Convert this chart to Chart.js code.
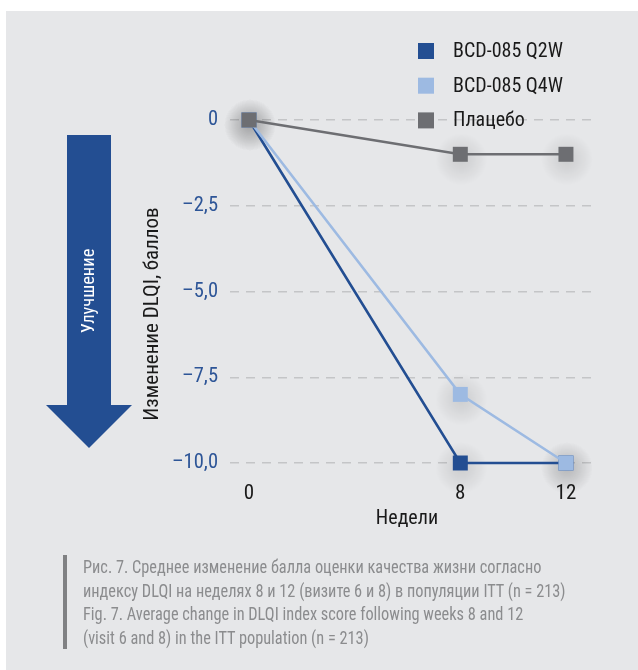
<!DOCTYPE html>
<html>
<head>
<meta charset="utf-8">
<script src="https://cdn.jsdelivr.net/npm/chart.js@4"></script>
<style>
  html, body { margin: 0; padding: 0; background: #ffffff; }
  #wrap { position: relative; width: 638px; height: 670px; overflow: hidden; }
  #panel { position: absolute; left: 6px; top: 11px; right: 0; bottom: 0; background: #e6e7e9; }
  #chart { position: absolute; left: 0; top: 0; }
  #caption {
    position: absolute; left: 63px; top: 555px;
    border-left: 4px solid #808183; padding-left: 16px;
  }
  #caption div {
    font-family: 'Roboto Condensed', 'Roboto', sans-serif; font-size: 18px;
    line-height: 23.6px; color: #8b8c8e; white-space: nowrap;
    transform: scaleX(0.907); transform-origin: left center;
  }
</style>
</head>
<body>
<div id="wrap">
  <div id="panel"></div>
  <canvas id="chart" width="638" height="670"></canvas>
  <div id="caption"><div>Рис. 7. Среднее изменение балла оценки качества жизни согласно<br>индексу DLQI на неделях 8 и 12 (визите 6 и 8) в популяции ITT (n = 213)<br>Fig. 7. Average change in DLQI index score following weeks 8 and 12<br>(visit 6 and 8) in the ITT population (n = 213)</div></div>
</div>
<script>
// Weeks of assessment and mean DLQI change per group
const weeks = [0, 8, 12];
const q2w = [0, -10, -10];
const q4w = [0, -8, -10];
const placebo = [0, -1, -1];
const seriesNames = ['BCD-085 Q2W', 'BCD-085 Q4W', 'Плацебо'];
const seriesColors = ['#234e92', '#9dbae2', '#6d6e72'];
const xTicks = [0, 8, 12];
const yTicks = [0, -2.5, -5, -7.5, -10];
const yTitle = 'Изменение DLQI, баллов';
const xTitle = 'Недели';
const arrowText = 'Улучшение';

const FONT = "'Roboto Condensed', 'Roboto', sans-serif";

const toPoints = vals => weeks.map((w, i) => ({ x: w, y: vals[i] }));
const fmtY = v => v === 0 ? '0' : '\u2013' + Math.abs(v).toFixed(1).replace('.', ',');

// Soft halo under each square marker
const markerHalo = {
  id: 'markerHalo',
  beforeDatasetsDraw(chart) {
    const ctx = chart.ctx;
    ctx.save();
    chart.data.datasets.forEach((ds, i) => {
      chart.getDatasetMeta(i).data.forEach(pt => {
        const cx = pt.x + 1, cy = pt.y + 5;
        const g = ctx.createRadialGradient(cx, cy, 0, cx, cy, 26);
        g.addColorStop(0, 'rgba(0,0,0,0.11)');
        g.addColorStop(0.5, 'rgba(0,0,0,0.06)');
        g.addColorStop(1, 'rgba(0,0,0,0)');
        ctx.fillStyle = g;
        ctx.beginPath();
        ctx.arc(cx, cy, 26, 0, Math.PI * 2);
        ctx.fill();
      });
    });
    ctx.restore();
  }
};

// Big "improvement" arrow, axis titles and the series key
const decorations = {
  id: 'decorations',
  afterDraw(chart) {
    const ctx = chart.ctx;
    ctx.save();
    // arrow
    ctx.fillStyle = '#234e92';
    ctx.beginPath();
    ctx.moveTo(67, 135);
    ctx.lineTo(111, 135);
    ctx.lineTo(111, 405);
    ctx.lineTo(132, 405);
    ctx.lineTo(89, 448);
    ctx.lineTo(46, 405);
    ctx.lineTo(67, 405);
    ctx.closePath();
    ctx.fill();

    ctx.textAlign = 'center';
    ctx.textBaseline = 'middle';
    ctx.save();
    ctx.translate(89, 291);
    ctx.rotate(-Math.PI / 2);
    ctx.fillStyle = '#ffffff';
    ctx.font = '18.5px ' + FONT;
    ctx.fillText(arrowText, 0, 0);
    ctx.restore();

    // y axis title
    ctx.save();
    ctx.translate(153, 314);
    ctx.rotate(-Math.PI / 2);
    ctx.fillStyle = '#1a1a1a';
    ctx.font = '21px ' + FONT;
    ctx.fillText(yTitle, 0, 0);
    ctx.restore();

    // x axis title
    ctx.fillStyle = '#1a1a1a';
    ctx.font = '20px ' + FONT;
    ctx.fillText(xTitle, 407, 519);

    // key
    ctx.font = '20px ' + FONT;
    ctx.textAlign = 'left';
    chart.data.datasets.forEach((ds, i) => {
      const cy = 51 + i * 34.7;
      ctx.fillStyle = ds.backgroundColor;
      ctx.fillRect(418, cy - 8, 16, 16);
      ctx.fillStyle = '#1a1a1a';
      ctx.fillText(ds.label, 453, cy + 1);
    });
    ctx.restore();
  }
};

const datasets = [q2w, q4w, placebo].map((vals, i) => ({
  label: seriesNames[i],
  data: toPoints(vals),
  borderColor: seriesColors[i],
  backgroundColor: seriesColors[i],
  borderWidth: 2.6,
  pointStyle: 'rect',
  pointRadius: 10.6,
  pointHoverRadius: 10.6,
  pointBorderWidth: 0,
  pointBackgroundColor: seriesColors[i],
  clip: false,
  tension: 0,
  order: 2 - i
}));

new Chart(document.getElementById('chart'), {
  type: 'line',
  data: { datasets },
  options: {
    responsive: false,
    animation: false,
    events: [],
    layout: { padding: { left: 0, top: 120, right: 43, bottom: 137 } },
    plugins: { legend: { display: false }, tooltip: { enabled: false } },
    scales: {
      x: {
        type: 'linear',
        min: -0.72,
        max: 13.1,
        afterBuildTicks: s => { s.ticks = xTicks.map(v => ({ value: v })); },
        afterFit: s => { s.height = 70; },
        grid: { display: false, drawTicks: false },
        border: { display: false },
        ticks: { color: '#1a1a1a', padding: 18, font: { family: FONT, size: 21 }, callback: v => String(v) },
        title: { display: false }
      },
      y: {
        type: 'linear',
        min: -10,
        max: 0,
        afterBuildTicks: s => { s.ticks = yTicks.map(v => ({ value: v })); },
        afterFit: s => { s.width = 230; },
        grid: { color: '#c4c5c7', lineWidth: 1.4, drawTicks: false },
        border: { display: false, dash: [9, 7] },
        ticks: { color: '#2d5597', padding: 12, font: { family: FONT, size: 20.5 }, callback: v => fmtY(v) }
      }
    }
  },
  plugins: [markerHalo, decorations]
});
</script>
</body>
</html>
